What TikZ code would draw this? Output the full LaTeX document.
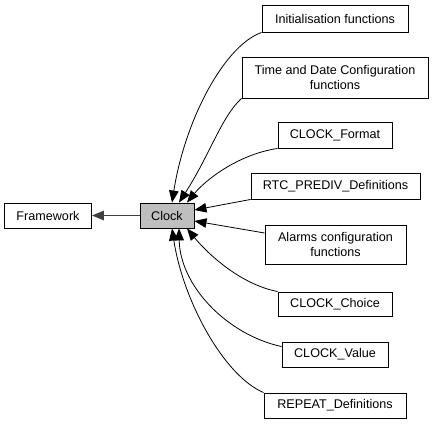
\documentclass[tikz,border=0pt]{standalone}
\usepackage{fontspec}
\setmainfont{Liberation Sans}
\usetikzlibrary{arrows.meta}
\definecolor{clockgray}{HTML}{BFBFBF}
\definecolor{edgegray}{HTML}{404040}
\begin{document}
\begin{tikzpicture}[x=1pt,y=-1pt,
  box/.style={draw=black,line width=0.9pt,fill=white,rectangle,inner sep=0pt,
     font=\fontsize{12.6}{14.5}\selectfont,align=center},
  link/.style={draw=black,line width=0.8pt,-{Triangle[length=12pt,width=9.5pt]}},
  mainlink/.style={draw=edgegray,line width=1.4pt,-{Triangle[length=12pt,width=9.5pt]}}]
\useasboundingbox (0,0) rectangle (433,424);
% nodes
\node[box,minimum width=87pt,minimum height=25pt] (fw) at (48,215.5) {Framework};
\node[box,fill=clockgray,minimum width=54pt,minimum height=25pt] (clock) at (167,215.5) {Clock};
\node[box,minimum width=146pt,minimum height=27pt] (init) at (335,18.5) {Initialisation functions};
\node[box,minimum width=186pt,minimum height=41pt] (tdc) at (335,77.5) {Time and Date Configuration\\functions};
\node[box,minimum width=114pt,minimum height=26pt] (fmt) at (335,135) {CLOCK\_Format};
\node[box,minimum width=169pt,minimum height=26pt] (rtc) at (335.5,186) {RTC\_PREDIV\_Definitions};
\node[box,minimum width=141pt,minimum height=39pt] (alm) at (335.5,244.5) {Alarms configuration\\functions};
\node[box,minimum width=114pt,minimum height=24pt] (cho) at (335,304) {CLOCK\_Choice};
\node[box,minimum width=106pt,minimum height=25pt] (val) at (335,354.5) {CLOCK\_Value};
\node[box,minimum width=142pt,minimum height=25pt] (rep) at (335,405.5) {REPEAT\_Definitions};
% edges
\draw[mainlink] (clock.west) -- (fw.east);
\draw[link] (init.south west) .. controls +(-37,13) and +(13,-83) .. ([xshift=5pt]clock.north);
\draw[link] (tdc.south west) .. controls +(-20,18) and +(31,-48) .. ([xshift=12pt]clock.north);
\draw[link] (fmt.south west) .. controls +(-40,6) and +(18,-22) .. ([xshift=20pt]clock.north);
\draw[link] (rtc.south west) -- ([yshift=5.5pt]clock.east);
\draw[link] ([yshift=11.5pt]alm.west) -- ([yshift=-5.5pt]clock.east);
\draw[link] (cho.north west) .. controls +(-40,-8) and +(18,22) .. ([xshift=20pt]clock.south);
\draw[link] ([yshift=-5pt]val.north west) .. controls +(-55,-12) and +(1,57) .. ([xshift=12pt]clock.south);
\draw[link] (rep.north west) .. controls +(-40,-17) and +(11,72) .. ([xshift=5pt]clock.south);
\end{tikzpicture}
\end{document}
